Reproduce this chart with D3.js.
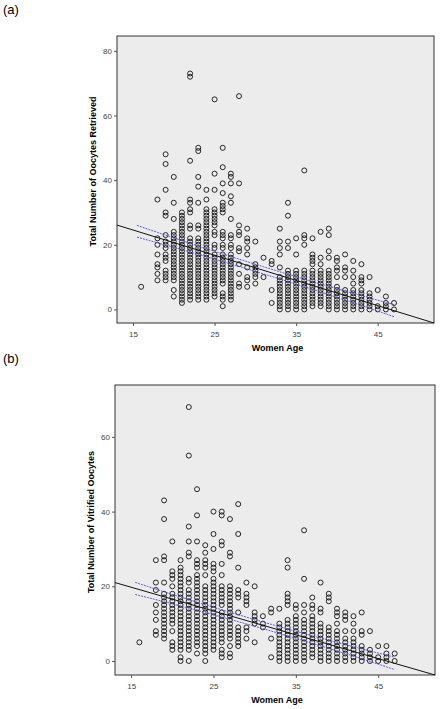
<!DOCTYPE html>
<html><head><meta charset="utf-8">
<script src="https://cdn.jsdelivr.net/npm/d3@7"></script>
<style>body{margin:0;background:#fff}svg{display:block}</style>
</head><body>
<svg id="chart" width="441" height="709"></svg>
<script>
// ages present in the plots
const ages = [16,18,19,20,21,22,23,24,25,26,27,28,29,30,31,32,33,34,35,36,37,38,39,40,41,42,43,44,45,46,47]

// (a) total number of oocytes retrieved, one list per age
const retrieved = [
  [7],
  [34,22,20,17,14,13,11,9],
  [48,45,37,30,29,23,21,20,19,17,16,15,12,11,10,9],
  [41,33,28,24,23,22,21,20,19,18,17,16,15,14,13,12,11,10,9,6,4],
  [30,29,28,27,26,25,24,23,22,21,20,19,18,17,16,15,14,13,12,11,10,9,8,7,6,5,4,3,2],
  [73,72,46,34,33,31,30,26,25,22,21,20,19,18,17,16,15,14,13,12,11,10,9,8,7,6,5,4,3],
  [50,49,41,38,33,26,25,22,21,20,19,18,17,16,15,14,13,12,11,10,9,8,7,6,5,4,3],
  [37,34,31,30,29,28,27,26,25,24,23,22,21,20,19,18,17,16,15,14,13,12,11,10,9,8,7,6,5,4,3],
  [65,42,37,31,30,29,28,27,26,24,23,20,19,17,16,15,14,13,12,11,10,9,8,7,6,5,4],
  [50,44,39,36,33,32,31,30,24,23,22,20,19,17,16,15,14,13,12,11,10,9,8,5,4,3,1],
  [42,41,39,35,33,28,23,22,20,19,17,16,15,14,13,12,11,10,9,8,7,6,5,4,3],
  [66,39,26,24,23,19,18,14,11,8,7],
  [25,22,21,19,17,13,10,9,7],
  [21,14,13,12,11,10,8],
  [16,10],
  [15,14,6,2],
  [25,21,19,17,13,10,9,8,7,6,5,4,3,2,1,0],
  [33,29,21,19,12,11,10,9,8,7,6,5,4,3,2,1,0],
  [22,17,12,11,10,9,8,7,6,5,4,3,2,1,0],
  [43,23,22,20,12,11,10,9,8,7,6,5,4,3,2,1,0],
  [22,17,16,15,14,12,11,10,9,8,7,6,5,4,3,2,1],
  [24,16,14,12,11,10,9,8,7,6,5,4,3,2,1],
  [25,23,18,16,12,11,10,9,8,7,6,5,4,3,2,1,0],
  [16,15,13,12,10,7,6,5,4,3,2,1,0],
  [17,13,12,10,6,5,4,3,2,1,0],
  [15,12,10,8,6,5,4,3,2,1,0],
  [14,10,9,8,6,5,4,3,2,1,0],
  [10,5,4,3,2,1,0],
  [6,1,0],
  [4,2,1,0],
  [2,0]
]

// (b) total number of vitrified oocytes, one list per age
const vitrified = [
  [5],
  [27,21,19,15,13,11,8,7],
  [43,38,28,27,21,18,17,16,15,14,13,12,11,10,9,8,7,6],
  [32,24,23,22,20,18,17,16,15,14,13,12,11,10,8,5,4,3],
  [27,25,24,23,22,21,20,19,18,17,16,15,14,13,12,11,10,9,8,7,6,5,4,3,1,0],
  [68,55,36,32,29,28,22,21,19,18,17,16,15,14,13,12,11,10,9,8,7,6,5,4,3,0],
  [46,39,32,27,26,25,23,22,21,20,19,18,17,16,15,14,13,12,11,10,9,8,7,6,5,4,2],
  [31,29,27,26,25,23,20,19,18,17,16,15,14,13,12,11,10,9,8,7,6,5,4,3,2,0],
  [40,34,30,26,25,24,22,21,20,19,18,17,16,15,14,13,12,11,10,9,8,7,6,5,4,3],
  [40,39,32,31,26,23,20,19,18,17,16,15,13,12,11,10,9,8,7,6,5,3,2,1],
  [38,29,28,20,19,18,17,16,15,14,13,12,11,10,9,8,7,6,4,2,1],
  [42,34,25,19,18,17,13,9,8,7,6,5,4],
  [21,18,17,16,15,9,8,6],
  [20,13,12,11,10,5],
  [12,10,9],
  [14,13,6,1],
  [14,10,9,8,7,6,5,4,3,2,1,0],
  [27,25,18,17,16,15,11,10,9,8,7,6,5,4,3,2,1,0],
  [15,14,12,11,10,9,8,7,6,5,4,3,2,1,0],
  [35,22,15,13,11,10,9,8,7,6,5,4,3,2,1,0],
  [17,15,14,12,11,10,9,8,7,6,5,4,3,2,1],
  [21,14,13,10,9,8,7,6,5,4,3,2,1,0],
  [18,17,16,9,8,7,6,5,4,3,2,1,0],
  [14,13,12,10,8,7,6,5,4,3,2,1,0],
  [13,12,11,8,6,5,4,3,2,1,0],
  [12,10,8,6,5,4,3,2,1,0],
  [13,8,7,4,3,2,1,0],
  [8,3,2,1,0],
  [4,1,0],
  [4,2,1,0],
  [2,0]
]

const xTicks = [15, 25, 35, 45]
const yTicksA = [0, 20, 40, 60, 80]
const yTicksB = [0, 20, 40, 60]

// fit line endpoints [age, value]
const fitA = [[13.04, 26.1], [51.9, -4.2]]
const fitB = [[13.04, 21.0], [51.9, -3.75]]

const svg = d3.select('#chart')

const drawPanel = (cfg) => {
  const x = d3.scaleLinear().domain([13.04, 51.9]).range([cfg.left, cfg.right])
  const y = d3.scaleLinear().domain(cfg.yDomain).range([cfg.bottom, cfg.top])
  const g = svg.append('g')

  g.append('text').attr('x', 3).attr('y', cfg.top - 22)
    .attr('font-family', 'Liberation Sans, Arial').attr('font-size', 13).text(cfg.label)

  g.append('rect')
    .attr('x', cfg.left).attr('y', cfg.top)
    .attr('width', cfg.right - cfg.left).attr('height', cfg.bottom - cfg.top)
    .attr('fill', '#ececec').attr('stroke', '#333').attr('stroke-width', 1)

  const ax = g.append('g').attr('transform', `translate(0,${cfg.bottom})`)
    .call(d3.axisBottom(x).tickValues(xTicks).tickSize(3).tickPadding(5))
  const ay = g.append('g').attr('transform', `translate(${cfg.left},0)`)
    .call(d3.axisLeft(y).tickValues(cfg.yTicks).tickSize(3).tickPadding(2))
  ;[ax, ay].forEach(a => {
    a.select('.domain').remove()
    a.selectAll('line').attr('stroke', '#555')
    a.selectAll('text').attr('font-family', 'Liberation Sans, Arial')
      .attr('font-size', 8).attr('fill', '#444')
  })

  // points
  const pts = []
  ages.forEach((a, i) => cfg.values[i].forEach(v => pts.push([a, v])))
  g.append('g').selectAll('circle').data(pts).enter().append('circle')
    .attr('cx', d => x(d[0])).attr('cy', d => y(d[1])).attr('r', 2.5)
    .attr('fill', 'none').attr('stroke', '#111').attr('stroke-width', 0.9)

  // fit line and CI
  const slope = (cfg.fit[1][1] - cfg.fit[0][1]) / (cfg.fit[1][0] - cfg.fit[0][0])
  const f = a => cfg.fit[0][1] + slope * (a - cfg.fit[0][0])
  const mean = 31
  const ci = a => cfg.ciBase + 0.003 * (a - mean) * (a - mean)
  const ageSpan = d3.range(15.5, 47.01, 0.5)
  const line = d3.line().x(d => x(d[0])).y(d => y(d[1]))
  ;[1, -1].forEach(s => {
    g.append('path').datum(ageSpan.map(a => [a, f(a) + s * ci(a)]))
      .attr('d', line).attr('fill', 'none').attr('stroke', '#4a4ad8')
      .attr('stroke-width', 0.9).attr('stroke-dasharray', '2,1')
  })
  g.append('path').datum(cfg.fit).attr('d', line)
    .attr('fill', 'none').attr('stroke', '#111').attr('stroke-width', 1)

  g.append('text').attr('x', (cfg.left + cfg.right) / 2 + 2).attr('y', cfg.xTitleY)
    .attr('text-anchor', 'middle').attr('font-family', 'Liberation Sans, Arial')
    .attr('font-weight', 'bold').attr('font-size', 9).text('Women Age')
  g.append('text')
    .attr('transform', `translate(${cfg.yTitleX},${(cfg.top + cfg.bottom) / 2 - 8}) rotate(-90)`)
    .attr('text-anchor', 'middle').attr('font-family', 'Liberation Sans, Arial')
    .attr('font-weight', 'bold').attr('font-size', 9).text(cfg.yTitle)
}

drawPanel({
  label: '(a)', left: 117, right: 434, top: 36, bottom: 323,
  yDomain: [-4.2, 84.6], yTicks: yTicksA, values: retrieved, fit: fitA, ciBase: 1.1,
  xTitleY: 351, yTitleX: 96, yTitle: 'Total Number of Oocytes Retrieved'
})
drawPanel({
  label: '(b)', left: 115, right: 435, top: 385, bottom: 675,
  yDomain: [-3.75, 73.9], yTicks: yTicksB, values: vitrified, fit: fitB, ciBase: 0.9,
  xTitleY: 703, yTitleX: 94, yTitle: 'Total Number of Vitrified Oocytes'
})
</script>
</body></html>
